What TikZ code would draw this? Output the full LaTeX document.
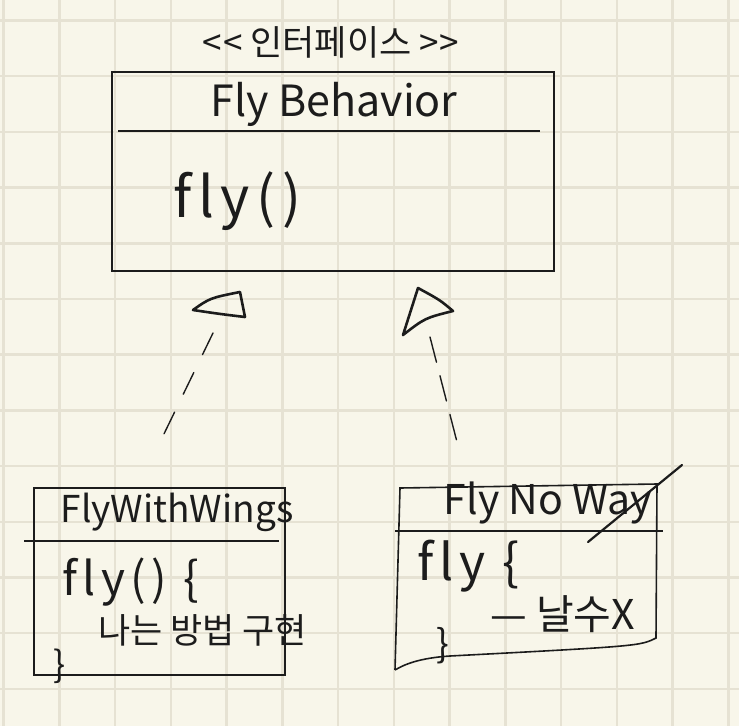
\documentclass[tikz,border=0pt]{standalone}
\usepackage{fontspec}
\setmainfont[Ligatures=NoCommon]{Noto Sans CJK KR}
\usetikzlibrary{calc}

\definecolor{paper}{HTML}{F8F6EA}
\definecolor{gridline}{HTML}{E6E2D3}
\definecolor{ink}{HTML}{1C1C1C}

\begin{document}
\begin{tikzpicture}[x=1pt,y=-1pt,
        box/.style={ink, line width=1.6pt},
        pen/.style={ink, line width=2.6pt, line join=round, line cap=round},
        dep/.style={ink, line width=1.4pt, line cap=round},
        hand/.style={ink, inner sep=0pt}]
            % Define the grid spacing
            \def\gx{55.75}
            \def\gy{55.7}
            \def\wide{\addfontfeature{LetterSpace=12}}

            % Paper and grid
            \fill[paper] (0,0) rectangle (739,726);
            \useasboundingbox (0,0) rectangle (739,726);
            \foreach \i in {0,...,13}
                \draw[gridline, line width=2.5pt] ({3.5+\gx*\i},0) -- ({3.5+\gx*\i},726);
            \foreach \j in {0,...,12}
                \draw[gridline, line width=2.5pt] (0,{20.5+\gy*\j}) -- (739,{20.5+\gy*\j});

            % Corners of the boxes
            \coordinate (I00) at (112,72);
            \coordinate (I11) at (554,271);
            \coordinate (W00) at (34,488);
            \coordinate (W11) at (285,675);
            \coordinate (N00) at (400,488);
            \coordinate (N10) at (657,484);
            \coordinate (N11) at (656,638);
            \coordinate (N01) at (395,670);

            % Draw the interface box
            \draw[box] (I00) rectangle (I11);
            \draw[box] (118,131) -- (540,131);
            \node[hand, font=\fontsize{35}{35}\selectfont] (stereo) at (331,42) {<\kern1pt< 인터페이스 >\kern1pt>};
            \node[hand, font=\fontsize{43}{43}\selectfont] (flyBehavior) at (334,104) {Fly Behavior};
            \node[hand, anchor=west, font=\fontsize{56}{56}\selectfont\wide] (flyI) at (173,201) {fly()};

            % Draw the FlyWithWings box
            \draw[box] (W00) rectangle (W11);
            \draw[box] (24,541) -- (279,541);
            \node[hand, font=\fontsize{37}{37}\selectfont] (flyWithWings) at (177,512) {FlyWithWings};
            \node[hand, anchor=west, font=\fontsize{46}{46}\selectfont\wide] (flyW) at (62,582) {fly() \{};
            \node[hand, anchor=west, font=\fontsize{35}{35}\selectfont] (howW) at (98,630) {나는 방법 구현};
            \node[hand, font=\fontsize{36}{36}\selectfont] (endW) at (60,666) {\}};

            % Draw the FlyNoWay box
            \draw[box] (N01) -- (N00) -- (N10) -- (N11) .. controls (640,646) .. (450,656)
                .. controls (420,658) and (405,664) .. (N01);
            \draw[box] (395,531) -- (663,531);
            \node[hand, font=\fontsize{41}{41}\selectfont] (flyNoWay) at (548,503) {Fly No Way};
            \draw[pen, line width=2.2pt] (588,542) -- (682,465);
            \node[hand, anchor=west, font=\fontsize{50}{50}\selectfont\wide] (flyN) at (417,566) {fly \{};
            \node[hand, anchor=west, font=\fontsize{41}{41}\selectfont] (howN) at (490,614) {— 날수X};
            \node[hand, font=\fontsize{38}{38}\selectfont] (endN) at (443,646) {\}};

            % Draw the hollow triangles
            \draw[pen] (193,310) .. controls (210,298) .. (240,292) -- (245,317) .. controls (220,314) .. cycle;
            \draw[pen] (418,288) -- (403,335) .. controls (425,318) .. (453,311) .. controls (440,300) .. cycle;

            % Draw the dashed realisation lines
            \coordinate (TL) at (213,333);
            \coordinate (WL) at (162,438);
            \coordinate (TR) at (430,337);
            \coordinate (WR) at (457,442);
            \draw[dep, dash pattern=on 24pt off 20pt] (TL) -- (WL);
            \draw[dep, dash pattern=on 26pt off 14pt] (TR) -- (WR);
\end{tikzpicture}
\end{document}
